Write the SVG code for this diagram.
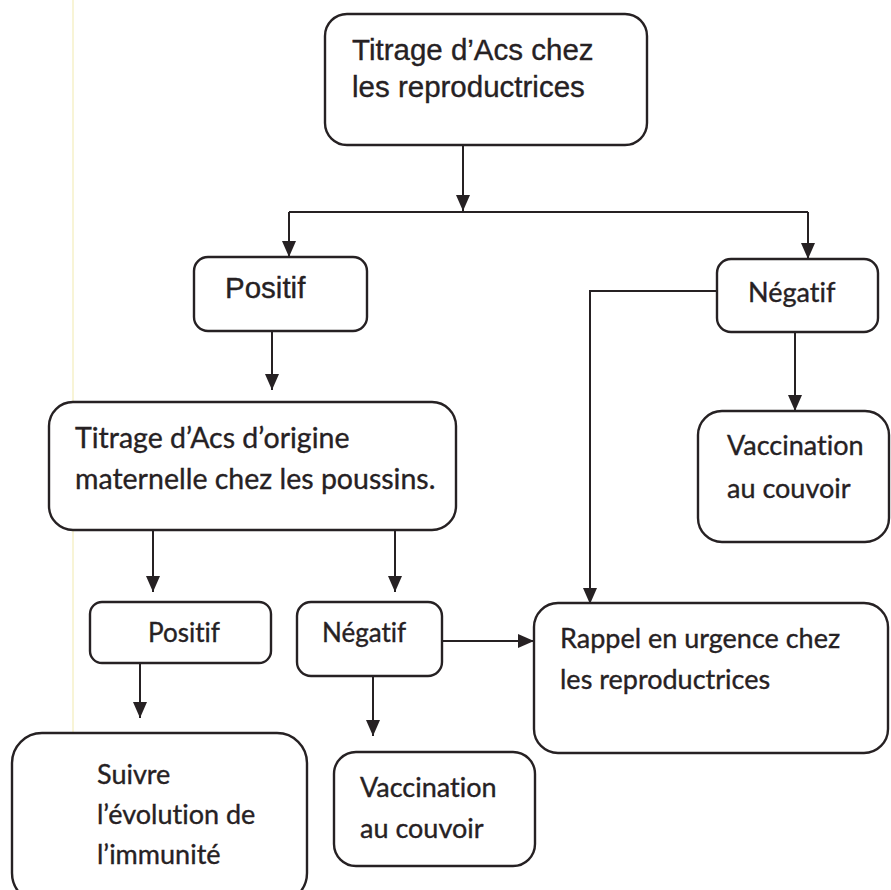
<svg xmlns="http://www.w3.org/2000/svg" width="891" height="890" viewBox="0 0 891 890">
<style>
.box{fill:#fff;stroke:#262123;stroke-width:2.4}
.ln{fill:none;stroke:#262123;stroke-width:2}
text{fill:#262123;stroke:#262123;stroke-width:0.35;font-variant-ligatures:none;font-feature-settings:"liga" 0}
.a{font-family:"Liberation Sans",Arial,sans-serif;font-size:29.5px}
.c{font-family:Lato,"Open Sans",sans-serif;font-size:27px}
.cl{font-family:Lato,"Open Sans",sans-serif;font-size:28.5px}
.cs{font-family:Lato,"Open Sans",sans-serif;font-size:26px}
</style>
<defs>
<marker id="ah" viewBox="0 0 16 14" refX="16" refY="7" markerWidth="16" markerHeight="14" markerUnits="userSpaceOnUse" orient="auto">
<path d="M0,0 L16,7 L0,14 Z" fill="#262123"/>
</marker>
</defs>
<rect width="891" height="890" fill="#fff"/>
<line x1="73" y1="0" x2="73" y2="890" stroke="#f6f0c8" stroke-width="1.5"/>
<g id="connectors">
<path class="ln" d="M463,145 V211" marker-end="url(#ah)"/>
<path class="ln" d="M289,212 H808"/>
<path class="ln" d="M289,212 V257" marker-end="url(#ah)"/>
<path class="ln" d="M808,212 V259" marker-end="url(#ah)"/>
<path class="ln" d="M272,331 V390" marker-end="url(#ah)"/>
<path class="ln" d="M717,291 H590 V604" marker-end="url(#ah)"/>
<path class="ln" d="M795,332 V411" marker-end="url(#ah)"/>
<path class="ln" d="M153,530 V592" marker-end="url(#ah)"/>
<path class="ln" d="M395,530 V592" marker-end="url(#ah)"/>
<path class="ln" d="M442,641 H534" marker-end="url(#ah)"/>
<path class="ln" d="M140,663 V718" marker-end="url(#ah)"/>
<path class="ln" d="M373,676 V736" marker-end="url(#ah)"/>
</g>
<g id="n1"><rect class="box" x="325" y="14" width="322" height="131" rx="22"/>
<text class="a" x="352" y="60">Titrage d’Acs chez</text>
<text class="a" x="352" y="97">les reproductrices</text></g>
<g id="n2"><rect class="box" x="194" y="257" width="173" height="74" rx="14"/>
<text class="a" x="225" y="298">Positif</text></g>
<g id="n3"><rect class="box" x="717" y="259" width="161" height="73" rx="14"/>
<text class="c" x="748" y="302">Négatif</text></g>
<g id="n4"><rect class="box" x="49" y="402" width="407" height="128" rx="24"/>
<text class="cl" x="75" y="448">Titrage d’Acs d’origine</text>
<text class="cl" x="75" y="489">maternelle chez les poussins.</text></g>
<g id="n5"><rect class="box" x="698" y="411" width="191" height="131" rx="24"/>
<text class="c" x="727" y="455">Vaccination</text>
<text class="c" x="727" y="498">au couvoir</text></g>
<g id="n6"><rect class="box" x="90" y="602" width="181" height="61" rx="12"/>
<text class="cs" x="148" y="642">Positif</text></g>
<g id="n7"><rect class="box" x="297" y="602" width="145" height="74" rx="14"/>
<text class="cs" x="322" y="642">Négatif</text></g>
<g id="n8"><rect class="box" x="534" y="603" width="354" height="150" rx="24"/>
<text class="c" x="560" y="648">Rappel en urgence chez</text>
<text class="c" x="560" y="689">les reproductrices</text></g>
<g id="n9"><rect class="box" x="12" y="733" width="295" height="170" rx="30"/>
<text class="c" x="97" y="784">Suivre</text>
<text class="c" x="97" y="824">l’évolution de</text>
<text class="c" x="97" y="864">l’immunité</text></g>
<g id="n10"><rect class="box" x="334" y="752" width="201" height="114" rx="22"/>
<text class="c" x="360" y="797">Vaccination</text>
<text class="c" x="360" y="838">au couvoir</text></g>
</svg>
